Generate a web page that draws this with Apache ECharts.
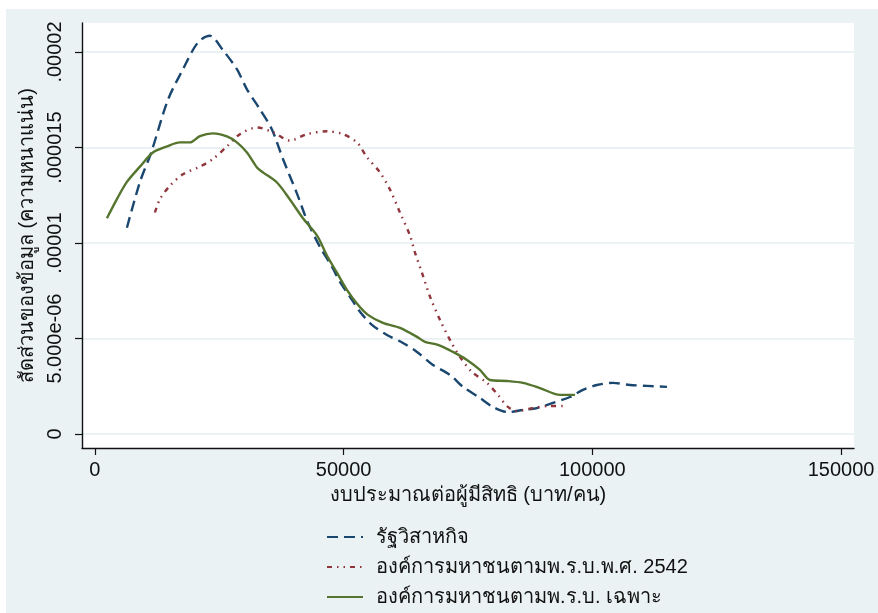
<!DOCTYPE html>
<html>
<head>
<meta charset="utf-8">
<script src="https://cdn.jsdelivr.net/npm/echarts@6/dist/echarts.min.js"></script>
<style>
  html, body { margin: 0; padding: 0; background: #ffffff; }
  #chart { width: 878px; height: 613px; }
</style>
</head>
<body>
<div id="chart"></div>
<script>
// ---- data ----
const seriesNames = ['รัฐวิสาหกิจ', 'องค์การมหาชนตามพ.ร.บ.พ.ศ. 2542', 'องค์การมหาชนตามพ.ร.บ. เฉพาะ'];
const xTicks = [0, 50000, 100000, 150000];
const yTicks = [0, 0.000005, 0.00001, 0.000015, 0.00002];
const yTickLabels = ['0', '5.000e-06', '.00001', '.000015', '.00002'];

const soeX = [6430, 9050, 11260, 14680, 17700, 20700, 23100, 25730, 28540, 30560, 33170, 35580, 37800, 40600, 42820, 45240, 47650, 49260, 51270, 53280, 55690, 58710, 61920, 64740, 67960, 71370, 73990, 77400, 80020, 83030, 86050, 88860, 92080, 95500, 98110, 100930, 104140, 107560, 110980, 115000];
const soeY = [10.8e-6, 13.2e-6, 14.7e-6, 17.5e-6, 19.1e-6, 20.5e-6, 20.85e-6, 20.1e-6, 19.1e-6, 18.05e-6, 17.0e-6, 15.95e-6, 14.4e-6, 12.6e-6, 11.07e-6, 9.8e-6, 8.76e-6, 7.97e-6, 7.19e-6, 6.4e-6, 5.72e-6, 5.19e-6, 4.77e-6, 4.3e-6, 3.62e-6, 3.1e-6, 2.47e-6, 1.89e-6, 1.42e-6, 1.15e-6, 1.26e-6, 1.36e-6, 1.63e-6, 1.94e-6, 2.31e-6, 2.57e-6, 2.68e-6, 2.57e-6, 2.52e-6, 2.47e-6];

const po2542X = [12060, 13070, 15080, 17690, 21110, 23720, 26540, 29150, 32570, 35790, 39200, 42620, 46640, 49860, 52670, 54680, 57300, 59310, 61320, 63330, 64340, 65740, 67350, 69360, 71370, 73380, 75790, 78810, 81020, 83030, 84840, 88060, 91480, 94490];
const po2542Y = [11.6e-6, 12.3e-6, 13.0e-6, 13.6e-6, 14.0e-6, 14.4e-6, 15.06e-6, 15.7e-6, 16.05e-6, 15.8e-6, 15.37e-6, 15.7e-6, 15.85e-6, 15.7e-6, 15.27e-6, 14.5e-6, 13.7e-6, 12.8e-6, 11.6e-6, 10.4e-6, 9.5e-6, 8.45e-6, 7.2e-6, 5.98e-6, 4.93e-6, 4.04e-6, 3.25e-6, 2.68e-6, 2.05e-6, 1.42e-6, 1.21e-6, 1.36e-6, 1.47e-6, 1.47e-6];

const poSpecX = [2410, 4420, 6430, 9050, 11660, 14480, 17090, 19100, 21110, 23720, 26540, 28540, 30560, 32570, 33780, 36590, 39200, 41820, 44630, 46640, 48650, 50660, 52870, 54890, 57900, 61320, 64740, 66340, 68960, 71970, 74790, 77400, 79410, 82830, 86050, 89460, 93490, 96500];
const poSpecY = [11.3e-6, 12.3e-6, 13.2e-6, 14.0e-6, 14.74e-6, 15.06e-6, 15.27e-6, 15.27e-6, 15.6e-6, 15.74e-6, 15.58e-6, 15.27e-6, 14.74e-6, 13.96e-6, 13.7e-6, 13.17e-6, 12.28e-6, 11.3e-6, 10.4e-6, 9.35e-6, 8.45e-6, 7.55e-6, 6.77e-6, 6.24e-6, 5.82e-6, 5.56e-6, 5.09e-6, 4.83e-6, 4.67e-6, 4.3e-6, 3.88e-6, 3.36e-6, 2.83e-6, 2.78e-6, 2.68e-6, 2.41e-6, 2.05e-6, 2.05e-6];

const xName = 'งบประมาณต่อผู้มีสิทธิ (บาท/คน)';
const yName = 'สัดส่วนของข้อมูล (ความหนาแน่น)';

// ---- build ----
const pairs = (xs, ys) => xs.map((x, i) => [x, ys[i]]);
const FONT = "'Liberation Sans', 'Noto Sans', Arial, sans-serif";
const BG = '#EAF2F3';

const chart = echarts.init(document.getElementById('chart'), null, { renderer: 'canvas' });
chart.setOption({
  animation: false,
  backgroundColor: '#ffffff',
  graphic: [{
    type: 'rect', z: -100, silent: true,
    shape: { x: 6, y: 9, width: 872, height: 604 },
    style: { fill: BG }
  }],
  grid: {
    left: 82, right: 24, top: 23, bottom: 165,
    show: true, backgroundColor: '#ffffff', borderWidth: 0
  },
  legend: {
    orient: 'vertical', left: 321, top: 522, height: 200, width: 500, itemGap: 10,
    itemWidth: 36, itemHeight: 14,
    itemStyle: { opacity: 0 },
    textStyle: { fontFamily: FONT, fontSize: 20, color: '#111', padding: [0, 0, 0, 8] },
    data: seriesNames
  },
  xAxis: {
    type: 'value', min: -2600, max: 152600,
    name: xName, nameLocation: 'middle', nameGap: 37,
    nameTextStyle: { fontFamily: FONT, fontSize: 20, color: '#111' },
    axisLine: { show: true, onZero: false, lineStyle: { color: '#111', width: 1.4 } },
    axisTick: { show: true, length: 7, customValues: xTicks, lineStyle: { color: '#111', width: 1.2 } },
    axisLabel: { customValues: xTicks, fontFamily: FONT, fontSize: 20, color: '#111', margin: 12,
      formatter: v => String(v) },
    splitLine: { show: false }
  },
  yAxis: {
    type: 'value', min: -0.73e-6, max: 21.52e-6,
    name: yName, nameLocation: 'middle', nameGap: 38, nameRotate: 90,
    nameTextStyle: { fontFamily: FONT, fontSize: 20, color: '#111' },
    axisLine: { show: true, onZero: false, lineStyle: { color: '#111', width: 1.4 } },
    axisTick: { show: true, length: 7, customValues: yTicks, lineStyle: { color: '#111', width: 1.2 } },
    axisLabel: { customValues: yTicks, rotate: 90, fontFamily: FONT, fontSize: 20, color: '#111', margin: 17,
      formatter: v => { const i = yTicks.findIndex(t => Math.abs(t - v) < 1e-9); return i >= 0 ? yTickLabels[i] : ''; } },
    splitLine: { show: true, lineStyle: { color: BG, width: 2 } }
  },
  series: [
    { name: seriesNames[0], type: 'line', data: pairs(soeX, soeY), showSymbol: false, symbol: 'none', smooth: 0.3,
      lineStyle: { color: '#1A476F', width: 2.4, type: [11, 6] }, itemStyle: { color: '#1A476F' } },
    { name: seriesNames[1], type: 'line', data: pairs(po2542X, po2542Y), showSymbol: false, symbol: 'none', smooth: 0.3,
      lineStyle: { color: '#90353B', width: 2.4, type: [5, 5, 1.5, 5, 1.5, 5] }, itemStyle: { color: '#90353B' } },
    { name: seriesNames[2], type: 'line', data: pairs(poSpecX, poSpecY), showSymbol: false, symbol: 'none', smooth: 0.3,
      lineStyle: { color: '#55752F', width: 2.4 }, itemStyle: { color: '#55752F' } }
  ]
});
</script>
</body>
</html>
